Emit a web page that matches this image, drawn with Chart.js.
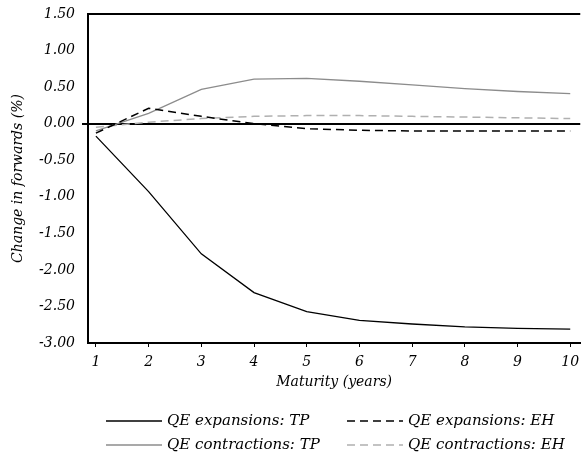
<!DOCTYPE html>
<html>
<head>
<meta charset="utf-8">
<script src="https://cdn.jsdelivr.net/npm/chart.js@4/dist/chart.umd.min.js"></script>
<style>
  html, body { margin: 0; padding: 0; background: #fff; }
  #wrap { width: 581px; height: 463px; }
  .fontwarm { position: absolute; left: 0; top: 600px; font: italic 14px "DejaVu Serif"; }
</style>
</head>
<body>
<div id="wrap"><canvas id="forwardsChart"></canvas></div>
<div class="fontwarm">QE expansions 1.50</div>
<script>
// maturities in years
const maturities = [1, 2, 3, 4, 5, 6, 7, 8, 9, 10];
const yTicks = [-3, -2.5, -2, -1.5, -1, -0.5, 0, 0.5, 1, 1.5];

const expansionsTP = [-0.17, -0.93, -1.78, -2.31, -2.57, -2.69, -2.74, -2.78, -2.80, -2.81];
const contractionsTP = [-0.10, 0.14, 0.47, 0.61, 0.62, 0.58, 0.53, 0.48, 0.44, 0.41];
const expansionsEH = [-0.13, 0.21, 0.10, 0.00, -0.07, -0.09, -0.10, -0.10, -0.10, -0.10];
const contractionsEH = [-0.05, 0.02, 0.07, 0.10, 0.11, 0.11, 0.10, 0.09, 0.08, 0.07];

const labels = ['QE expansions: TP', 'QE expansions: EH', 'QE contractions: TP', 'QE contractions: EH'];

const serif = '"DejaVu Serif"';
Chart.defaults.font.family = serif;
Chart.defaults.font.style = 'italic';
Chart.defaults.font.size = 14;
Chart.defaults.color = '#000';

function points(values) {
  return maturities.map((m, i) => ({ x: m, y: values[i] }));
}

// legend laid out in two columns, like the original
const legendPlugin = {
  id: 'twoColLegend',
  afterDraw(chart) {
    const ctx = chart.ctx;
    const cols = [106, 347];
    const rows = [421, 445];
    chart.data.datasets.forEach((ds, i) => {
      const x = cols[i % 2];
      const y = rows[Math.floor(i / 2)];
      ctx.save();
      ctx.strokeStyle = ds.borderColor;
      ctx.lineWidth = ds.borderWidth;
      ctx.setLineDash(ds.borderDash || []);
      ctx.beginPath();
      ctx.moveTo(x, y);
      ctx.lineTo(x + 56, y);
      ctx.stroke();
      ctx.setLineDash([]);
      ctx.fillStyle = '#000';
      ctx.font = 'italic 15px ' + serif;
      ctx.textBaseline = 'middle';
      ctx.fillText(ds.label, x + 61, y);
      ctx.restore();
    });
    // top frame line
    const a = chart.chartArea;
    ctx.save();
    ctx.strokeStyle = '#000';
    ctx.lineWidth = 2;
    ctx.beginPath();
    ctx.moveTo(a.left, a.top);
    ctx.lineTo(a.right, a.top);
    ctx.stroke();
    ctx.restore();
  }
};

const chartData = {
  datasets: [
    { label: labels[0], data: points(expansionsTP), borderColor: '#000', borderWidth: 1.3 },
    { label: labels[1], data: points(expansionsEH), borderColor: '#000', borderWidth: 1.5, borderDash: [8, 5] },
    { label: labels[2], data: points(contractionsTP), borderColor: '#8c8c8c', borderWidth: 1.3 },
    { label: labels[3], data: points(contractionsEH), borderColor: '#b0b0b0', borderWidth: 1.5, borderDash: [8, 5] }
  ]
};

const tickFont = { family: serif, style: 'italic', size: 14 };

const chartConfig = {
  type: 'line',
  data: chartData,
  options: {
    responsive: true,
    maintainAspectRatio: false,
    animation: false,
    layout: { padding: { top: 14, right: 0, left: 0, bottom: 72 } },
    elements: { point: { radius: 0 }, line: { tension: 0 } },
    plugins: {
      legend: { display: false },
      tooltip: { enabled: false }
    },
    scales: {
      x: {
        type: 'linear',
        min: 0.85,
        max: 10.19,
        afterBuildTicks: axis => { axis.ticks = maturities.map(v => ({ value: v })); },
        afterFit: axis => {
          axis.height = 48;
          axis.paddingLeft = 0;
          axis.paddingRight = 0;
        },
        border: { color: '#000', width: 2 },
        grid: { drawOnChartArea: false, tickColor: '#000', tickLength: 4 },
        ticks: { color: '#000', font: tickFont, padding: 7, maxRotation: 0 },
        title: {
          display: true,
          text: 'Maturity (years)',
          color: '#000',
          font: tickFont,
          padding: { top: 4, bottom: 0 }
        }
      },
      y: {
        min: -3,
        max: 1.5,
        afterBuildTicks: axis => { axis.ticks = yTicks.map(v => ({ value: v })); },
        afterFit: axis => {
          axis.width = 88;
          axis.paddingTop = 0;
          axis.paddingBottom = 0;
        },
        border: { color: '#000', width: 2 },
        grid: {
          color: c => (c.tick && c.tick.value === 0 ? '#000' : 'rgba(0,0,0,0)'),
          lineWidth: c => (c.tick && c.tick.value === 0 ? 2 : 0),
          tickColor: '#000',
          tickLength: 6
        },
        ticks: {
          color: '#000',
          font: tickFont,
          padding: 7,
          callback: v => v.toFixed(2)
        },
        title: {
          display: true,
          text: 'Change in forwards (%)',
          color: '#000',
          font: tickFont,
          padding: { top: 10, bottom: 0 }
        }
      }
    }
  },
  plugins: [legendPlugin]
};

const ctx = document.getElementById('forwardsChart').getContext('2d');
const chart = new Chart(ctx, chartConfig);
// redraw once the font is surely in use
document.fonts.ready.then(() => chart.update());
</script>
</body>
</html>
